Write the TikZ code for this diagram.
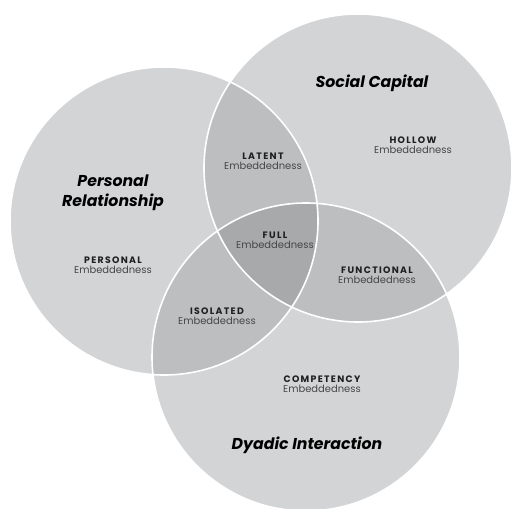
\documentclass[tikz,border=0pt]{standalone}
\usepackage{fontspec}
\setmainfont{Poppins}
\usetikzlibrary{positioning}
\definecolor{grisclaro}{RGB}{211,212,214}
\definecolor{grismedio}{RGB}{189,190,192}
\definecolor{grisoscuro}{RGB}{168,169,171}
\tikzset{
    borde/.style={draw=white, line width=1.6bp},
    kindlbl/.style={inner sep=0pt, text=black!88,
        font=\bfseries\fontsize{9.4}{10}\selectfont\addfontfeatures{LetterSpace=14}},
    sublbl/.style={inner sep=0pt, text=black!72, font=\fontsize{10}{11}\selectfont},
    titlelbl/.style={inner sep=0pt, align=center, text=black,
        font=\bfseries\itshape\fontsize{15.8}{20.5}\selectfont},
}
\begin{document}
\begin{tikzpicture}[x=1bp, y=1bp]
\useasboundingbox (0,0) rectangle (511,-509);
\coordinate (pers) at (164,-221);
\coordinate (soc) at (358,-168);
\coordinate (dya) at (306,-357);
\def\rad{154}
% Base circles
\fill[grisclaro] (pers) circle (\rad);
\fill[grisclaro] (soc) circle (\rad);
\fill[grisclaro] (dya) circle (\rad);
% Pairwise overlaps
\begin{scope}
\clip (pers) circle (\rad);
\fill[grismedio] (soc) circle (\rad);
\fill[grismedio] (dya) circle (\rad);
\end{scope}
\begin{scope}
\clip (soc) circle (\rad);
\fill[grismedio] (dya) circle (\rad);
\end{scope}
% Centre of all three
\begin{scope}
\clip (pers) circle (\rad);
\clip (soc) circle (\rad);
\fill[grisoscuro] (dya) circle (\rad);
\end{scope}
% White outlines
\foreach \c in {pers, soc, dya} {
    \draw[borde] (\c) circle (\rad);
}
% Titles
\node[titlelbl] (soctitle) at (372,-83) {Social Capital};
\node[titlelbl] (perstitle) at (113,-193) {Personal\\Relationship};
\node[titlelbl] (dyatitle) at (307,-445) {Dyadic Interaction};
% Embeddedness kinds
\foreach \nm/\txt/\x/\y in {hollow/HOLLOW/413/140, latent/LATENT/263/156,
        full/FULL/275/235, personal/PERSONAL/113/260,
        functional/FUNCTIONAL/377/270, isolated/ISOLATED/217/311,
        competency/COMPETENCY/322/379} {
    \node[kindlbl] (\nm) at (\x,-\y) {\txt};
    \node[sublbl, below=2.5bp of \nm] (\nm-sub) {Embeddedness};
}
\end{tikzpicture}
\end{document}
